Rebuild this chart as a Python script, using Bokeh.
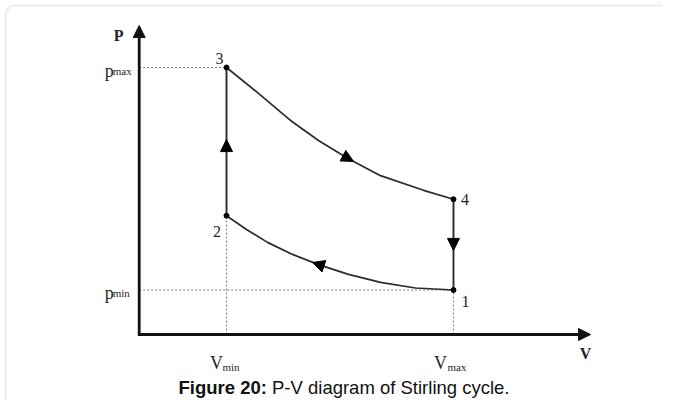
from bokeh.plotting import figure
from bokeh.models import Range1d, Arrow, NormalHead, ColumnDataSource, BoxAnnotation
from bokeh.core.properties import value
from bokeh.embed import file_html
from bokeh.resources import INLINE

# ---------------- data ----------------
V_MIN, V_MAX = 1.0, 3.6
P_MIN, P_MAX = 1.0, 6.0

state_labels = ["1", "2", "3", "4"]
state_v = [3.6, 1.0, 1.0, 3.6]
state_p = [1.0, 2.67, 6.0, 3.04]

# isothermal expansion 3 -> 4
exp_v = [1.0, 1.366, 1.733, 2.054, 2.386, 2.764, 3.257, 3.6]
exp_p = [6.0, 5.42, 4.81, 4.36, 3.96, 3.57, 3.24, 3.04]

# isothermal compression 1 -> 2
comp_v = [3.6, 3.165, 2.764, 2.398, 2.054, 1.756, 1.470, 1.229, 1.0]
comp_p = [1.0, 1.045, 1.17, 1.35, 1.57, 1.80, 2.07, 2.36, 2.67]

# direction-of-flow arrows (tail -> tip)
flow_tail_v = [1.0, 2.226, 3.6, 2.214]
flow_tail_p = [4.20, 4.135, 2.10, 1.47]
flow_tip_v = [1.0, 2.455, 3.6, 1.985]
flow_tip_p = [4.38, 3.89, 1.89, 1.618]

p_tick_subs = ["max", "min"]
p_tick_vals = [P_MAX, P_MIN]
v_tick_subs = ["min", "max"]
v_tick_vals = [V_MIN, V_MAX]

caption_bold = "Figure 20:"
caption_text = "P-V diagram of Stirling cycle."

# ---------------- layout ----------------
W, H = 662, 400
PX_V, PX_P = 87.3, 44.5          # pixels per data unit
OX, OY = 138.7, 334.0            # canvas position of the origin


def dx(px):
    return (px - OX) / PX_V


def dy(py):
    return (OY - py) / PX_P


p = figure(width=W, height=H,
           x_range=Range1d(dx(0), dx(W)), y_range=Range1d(dy(H), dy(0)),
           x_axis_type=None, y_axis_type=None,
           toolbar_location=None, output_backend="svg",
           min_border=0, outline_line_color=None,
           background_fill_color="white", border_fill_color="white")

# rounded frame of the figure panel
p.add_layout(BoxAnnotation(left=dx(5), right=dx(W + 40), top=dy(5), bottom=dy(H + 40),
                           fill_color=None, fill_alpha=0,
                           line_color="#c2c2c2", line_width=2, border_radius=10))

SERIF = value("Liberation Serif")
SANS = value("Liberation Sans")

# dotted guide lines
P2 = state_p[1]
p.segment(x0=[0, 0, V_MIN, V_MAX], y0=[P_MAX, P_MIN, 0, 0],
          x1=[V_MIN, V_MAX, V_MIN, V_MAX], y1=[P_MAX, P_MIN, P2, P_MIN],
          line_color="#808080", line_width=1.1, line_dash="2 2")

# cycle
CYC = "#2b2b2b"
p.segment(x0=[state_v[1], state_v[3]], y0=[state_p[1], state_p[3]],
          x1=[state_v[2], state_v[0]], y1=[state_p[2], state_p[0]],
          line_color=CYC, line_width=1.9)
p.line(exp_v, exp_p, line_color=CYC, line_width=1.7, line_join="round")
p.line(comp_v, comp_p, line_color=CYC, line_width=1.7, line_join="round")
p.scatter(state_v, state_p, size=5, color="black")

# flow arrows
flow_src = ColumnDataSource(dict(x0=flow_tail_v, y0=flow_tail_p, x1=flow_tip_v, y1=flow_tip_p))
p.add_layout(Arrow(source=flow_src, x_start="x0", y_start="y0", x_end="x1", y_end="y1",
                   line_alpha=0,
                   end=NormalHead(size=12, fill_color="black", line_color="black", line_width=1)))

# axes with arrow heads
X_TIP, Y_TIP = dx(590), dy(25)
p.line([dx(590 - 9), 0, 0], [0, 0, dy(25 + 9)], line_color="#111111", line_width=2.8,
       line_join="miter")
p.add_layout(Arrow(x_start=dx(560), y_start=0, x_end=X_TIP, y_end=0, line_alpha=0,
                   end=NormalHead(size=12, fill_color="#111111", line_color="#111111", line_width=1)))
p.add_layout(Arrow(x_start=0, y_start=dy(50), x_end=0, y_end=Y_TIP, line_alpha=0,
                   end=NormalHead(size=12, fill_color="#111111", line_color="#111111", line_width=1)))

TXT = "#262626"
# axis titles
p.text(x=[0], y=[Y_TIP], text=["P"], text_font=SERIF, text_font_style="bold",
       text_font_size="16px", text_align="center", text_baseline="middle",
       x_offset=-20.5, y_offset=10, text_color=TXT)
p.text(x=[X_TIP], y=[0], text=["V"], text_font=SERIF, text_font_style="bold",
       text_font_size="16px", text_align="center", text_baseline="middle",
       x_offset=-5, y_offset=19, text_color=TXT)

# p_max / p_min
p.text(x=[0, 0], y=p_tick_vals, text=["p", "p"], text_font=SERIF, text_font_size="18px",
       text_align="right", text_baseline="alphabetic", x_offset=-25.5, y_offset=3,
       text_color=TXT)
p.text(x=[0, 0], y=p_tick_vals, text=p_tick_subs, text_font=SERIF, text_font_size="11px",
       text_align="left", text_baseline="alphabetic", x_offset=-26.5, y_offset=3,
       text_color=TXT)

# V_min / V_max
p.text(x=v_tick_vals, y=[0, 0], text=["V", "V"], text_font=SERIF, text_font_size="18px",
       text_align="center", text_baseline="alphabetic", x_offset=[-10, -13], y_offset=28,
       text_color=TXT)
p.text(x=v_tick_vals, y=[0, 0], text=v_tick_subs, text_font=SERIF, text_font_size="11px",
       text_align="left", text_baseline="alphabetic", x_offset=[-4, -6], y_offset=32,
       text_color=TXT)

# state numbers
p.text(x=state_v, y=state_p, text=state_labels, text_font=SERIF, text_font_size="16px",
       text_align="center", text_baseline="middle",
       x_offset=[12, -9.5, -7, 11.5], y_offset=[11, 16, -9, 0], text_color=TXT)

# caption (kept inside the 400px canvas)
p.text(x=[dx(266.4)], y=[dy(387)], text=[caption_bold], text_font=SANS,
       text_font_style="bold", text_font_size="18.5px", text_align="right",
       text_baseline="middle", text_color="#111111")
p.text(x=[dx(271.5)], y=[dy(387)], text=[caption_text], text_font=SANS,
       text_font_size="18.5px", text_align="left",
       text_baseline="middle", text_color="#111111")

open("out.html", "w").write(file_html(p, INLINE))
